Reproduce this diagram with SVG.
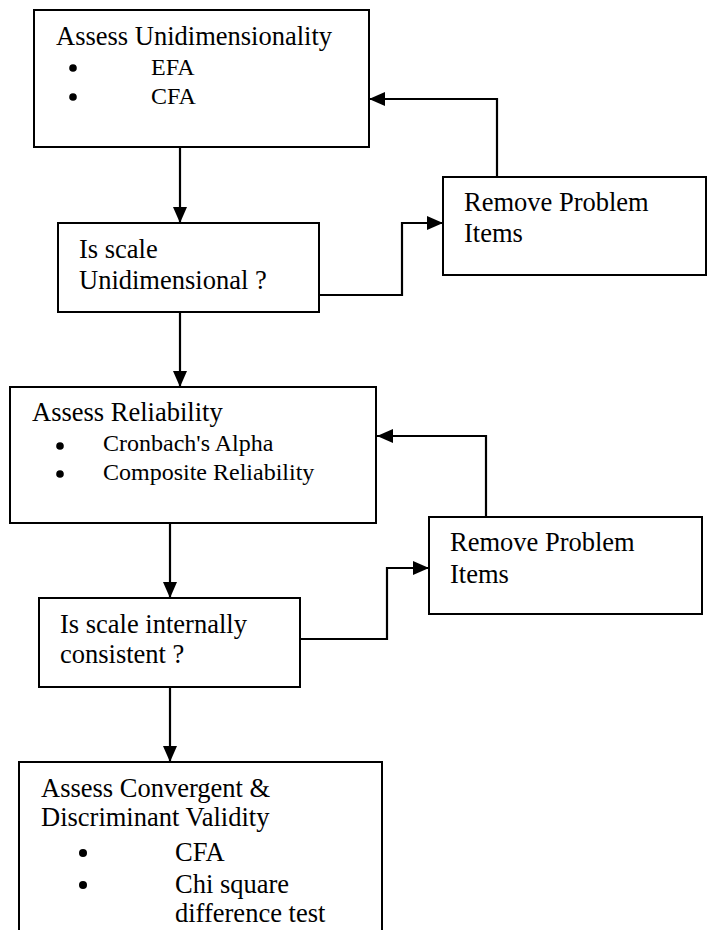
<svg xmlns="http://www.w3.org/2000/svg" width="707" height="930" viewBox="0 0 707 930">
  <style>
    .box { fill: #ffffff; stroke: #000000; stroke-width: 2; }
    .edge { fill: none; stroke: #000000; stroke-width: 2.2; }
    .dot { fill: #000000; }
    text { font-family: "Liberation Serif", "Times New Roman", serif; fill: #000000; }
    .h { font-size: 26.5px; }
    .s { font-size: 24px; }
  </style>
  <defs>
    <marker id="arrow" markerUnits="userSpaceOnUse" markerWidth="16" markerHeight="14" refX="16" refY="7" orient="auto">
      <path d="M0,0 L16,7 L0,14 Z" fill="#000000"/>
    </marker>
  </defs>
  <rect width="707" height="930" fill="#ffffff"/>

  <!-- connectors -->
  <g id="connectors">
    <path class="edge" d="M180,147 V223" marker-end="url(#arrow)"/>
    <path class="edge" d="M319,295 H402 V223 H443" marker-end="url(#arrow)"/>
    <path class="edge" d="M497,177 V99 H369" marker-end="url(#arrow)"/>
    <path class="edge" d="M180,312 V387" marker-end="url(#arrow)"/>
    <path class="edge" d="M486,517 V436 H377" marker-end="url(#arrow)"/>
    <path class="edge" d="M170,523 V598" marker-end="url(#arrow)"/>
    <path class="edge" d="M300,639 H387 V568 H429" marker-end="url(#arrow)"/>
    <path class="edge" d="M170,687 V762" marker-end="url(#arrow)"/>
  </g>

  <!-- step 1: unidimensionality -->
  <g id="assess-unidimensionality">
    <rect class="box" x="34" y="10" width="335" height="137"/>
    <text class="h" x="56" y="45">Assess Unidimensionality</text>
    <circle class="dot" cx="73" cy="68" r="3.8"/>
    <text class="s" x="151" y="75">EFA</text>
    <circle class="dot" cx="73" cy="97" r="3.8"/>
    <text class="s" x="151" y="104">CFA</text>
  </g>

  <g id="is-unidimensional">
    <rect class="box" x="58" y="223" width="261" height="89"/>
    <text class="h" x="79" y="258">Is scale</text>
    <text class="h" x="79" y="289">Unidimensional ?</text>
  </g>

  <g id="remove-items-1">
    <rect class="box" x="443" y="177" width="263" height="98"/>
    <text class="h" x="464" y="211">Remove Problem</text>
    <text class="h" x="464" y="242">Items</text>
  </g>

  <!-- step 2: reliability -->
  <g id="assess-reliability">
    <rect class="box" x="10" y="387" width="366" height="136"/>
    <text class="h" x="32" y="421">Assess Reliability</text>
    <circle class="dot" cx="60" cy="446" r="3.8"/>
    <text class="s" x="103" y="451">Cronbach's Alpha</text>
    <circle class="dot" cx="60" cy="474" r="3.8"/>
    <text class="s" x="103" y="480">Composite Reliability</text>
  </g>

  <g id="is-consistent">
    <rect class="box" x="39" y="598" width="261" height="89"/>
    <text class="h" x="60" y="633">Is scale internally</text>
    <text class="h" x="60" y="663">consistent ?</text>
  </g>

  <g id="remove-items-2">
    <rect class="box" x="429" y="517" width="273" height="97"/>
    <text class="h" x="450" y="551">Remove Problem</text>
    <text class="h" x="450" y="583">Items</text>
  </g>

  <!-- step 3: validity -->
  <g id="assess-validity">
    <rect class="box" x="19" y="762" width="363" height="190"/>
    <text class="h" x="41" y="797">Assess Convergent &amp;</text>
    <text class="h" x="41" y="826">Discriminant Validity</text>
    <circle class="dot" cx="83" cy="853" r="4"/>
    <text class="h" x="175" y="861">CFA</text>
    <circle class="dot" cx="83" cy="885" r="4"/>
    <text class="h" x="175" y="893">Chi square</text>
    <text class="h" x="175" y="922">difference test</text>
  </g>
</svg>
